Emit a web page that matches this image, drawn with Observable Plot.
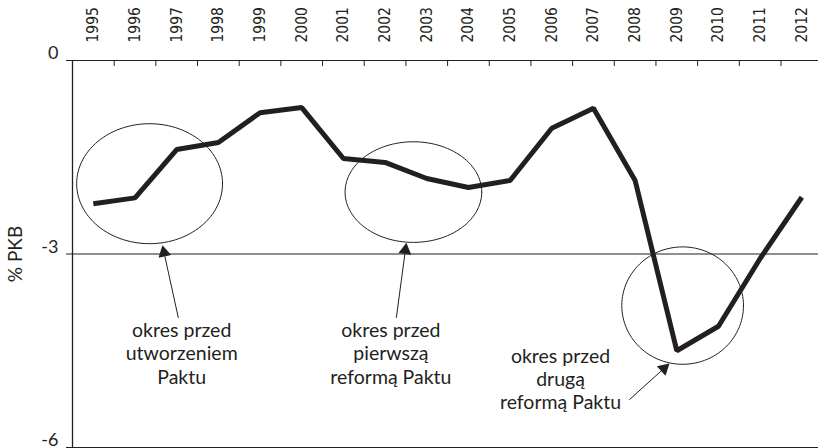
<!DOCTYPE html>
<html>
<head>
<meta charset="utf-8">
<script src="https://cdn.jsdelivr.net/npm/d3@7"></script>
<script src="https://cdn.jsdelivr.net/npm/@observablehq/plot@0.6"></script>
<style>
  html, body { margin: 0; padding: 0; background: #fff; }
  #chart svg { display: block; }
</style>
</head>
<body>
<div id="chart"></div>
<script>
// ---- data ----
const years = [1995, 1996, 1997, 1998, 1999, 2000, 2001, 2002, 2003, 2004, 2005, 2006, 2007, 2008, 2009, 2010, 2011, 2012];
const balance = [-2.22, -2.13, -1.38, -1.27, -0.81, -0.73, -1.52, -1.58, -1.83, -1.97, -1.86, -1.05, -0.74, -1.86, -4.50, -4.12, -3.07, -2.12];
const yTicks = [0, -3, -6];
const yLabel = "% PKB";

// ---- annotations (data coordinates) ----
const noteTexts = ["okres przed\nutworzeniem\nPaktu", "okres przed\npierwszą\nreformą Paktu", "okres przed\ndrugą\nreformą Paktu"];
const noteX = [1997.12, 2002.14, 2006.21];
const noteY = [-4.53, -4.53, -4.93];
const ellipseCx = [1996.35, 2002.68, 2009.14];
const ellipseCy = [-1.91, -2.04, -3.80];
const ellipseRx = [1.75, 1.64, 1.46];
const ellipseRy = [0.93, 0.78, 0.91];
const arrowTailX = [1997.04, 2002.27, 2007.86];
const arrowTailY = [-3.99, -3.99, -5.26];
const arrowHeadX = [1996.66, 2002.51, 2008.82];
const arrowHeadY = [-2.87, -2.83, -4.70];

// ---- layout ----
const W = 818, H = 448, mL = 72, mR = 0, mT = 60, mB = 1;
const xDomain = [1994.5, 2012.4];
const yDomain = [-6, 0];
const ink = "#231f20";
const kx = (W - mL - mR) / (xDomain[1] - xDomain[0]);
const ky = (H - mT - mB) / (yDomain[1] - yDomain[0]);

const series = years.map((year, i) => ({year, value: balance[i]}));
const boundaries = years.slice(0, -1).map(y => y + 0.5);

const ellipsePts = [];
ellipseCx.forEach((cx, k) => {
  for (let i = 0; i <= 120; i++) {
    const t = (i / 120) * 2 * Math.PI;
    ellipsePts.push({id: k, x: cx + ellipseRx[k] * Math.cos(t), y: ellipseCy[k] + ellipseRy[k] * Math.sin(t)});
  }
});

const arrows = arrowTailX.map((tx, i) => {
  const hx = arrowHeadX[i], hy = arrowHeadY[i], ty = arrowTailY[i];
  const dxp = (hx - tx) * kx, dyp = -(hy - ty) * ky;
  const len = Math.hypot(dxp, dyp);
  const ux = dxp / len, uy = dyp / len;
  return {
    x1: tx, y1: ty, x2: hx, y2: hy,
    cx: hx - 7.2 * ux / kx, cy: hy + 7.2 * uy / ky,
    angle: Math.atan2(dxp, -dyp) * 180 / Math.PI
  };
});

const notes = noteTexts.map((t, i) => ({text: t, x: noteX[i], y: noteY[i]}));

const chart = Plot.plot({
  width: W, height: H,
  marginLeft: mL, marginRight: mR, marginTop: mT, marginBottom: mB,
  style: {fontFamily: "Lato, 'Open Sans', sans-serif", color: ink, background: "#fff", overflow: "visible"},
  x: {domain: xDomain, axis: null},
  y: {domain: yDomain, axis: null},
  marks: [
    Plot.ruleY(yTicks, {stroke: ink, strokeWidth: 1.1}),
    Plot.ruleX([xDomain[0]], {stroke: ink, strokeWidth: 1.3}),
    Plot.axisY({ticks: yTicks, tickSize: 6, tickFormat: () => "", stroke: ink, label: null}),
    Plot.axisY({ticks: yTicks, tickSize: 0, tickPadding: 14, fontSize: 18, dy: -7, fill: ink,
      tickFormat: d => String(d), label: null}),
    Plot.text([yLabel], {frameAnchor: "left", textAnchor: "middle", text: d => d, rotate: -90, dx: -57, fontSize: 19, fill: ink}),
    Plot.axisX({anchor: "top", ticks: years, tickSize: 0, tickPadding: 18, tickRotate: -90, fontSize: 15.5,
      fontFamily: "'Liberation Sans Narrow', 'DejaVu Sans Condensed', Lato, sans-serif",
      tickFormat: d => String(d), fill: ink, label: null}),
    Plot.axisX({anchor: "top", ticks: boundaries, tickSize: -5, tickFormat: () => "", stroke: ink, label: null}),
    Plot.line(ellipsePts, {x: "x", y: "y", z: "id", stroke: ink, strokeWidth: 1, curve: "linear"}),
    Plot.line(series, {x: "year", y: "value", stroke: ink, strokeWidth: 5, strokeLinejoin: "miter", strokeLinecap: "butt"}),
    Plot.link(arrows, {x1: "x1", y1: "y1", x2: "cx", y2: "cy", stroke: ink, strokeWidth: 1}),
    Plot.dot(arrows, {x: "cx", y: "cy", symbol: "triangle", r: 4.8, fill: ink, stroke: "none", rotate: "angle"}),
    Plot.text(notes, {x: "x", y: "y", text: "text", fontSize: 19.5, lineHeight: 1.2, lineAnchor: "middle", fill: ink})
  ]
});
document.getElementById("chart").appendChild(chart);
</script>
</body>
</html>
